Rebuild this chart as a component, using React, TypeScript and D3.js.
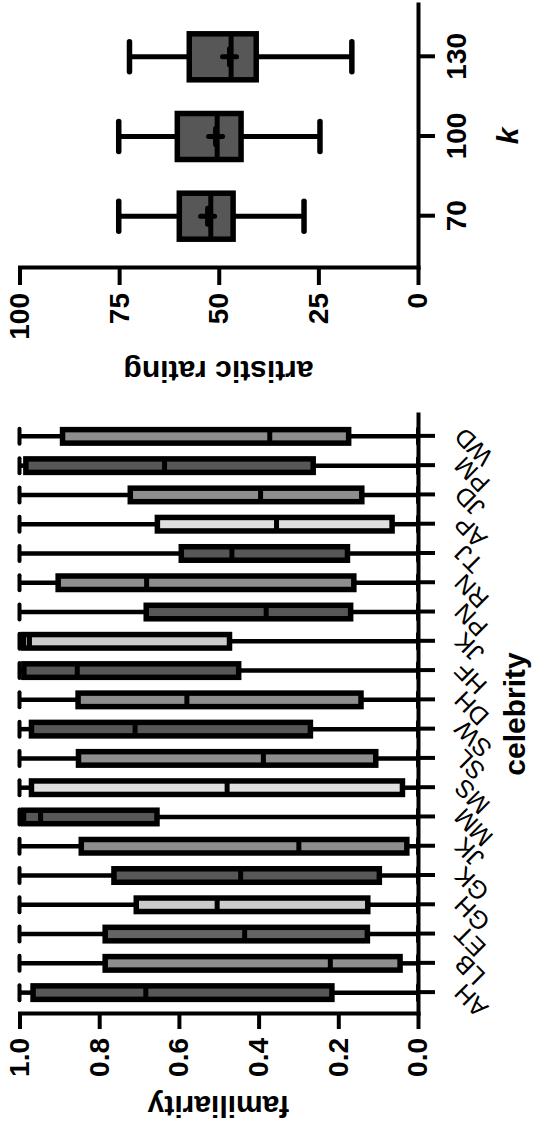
import * as d3 from "d3";
import { useEffect, useRef } from "react";

// familiarity per celebrity (box plot stats)
const celebrities = ["AH", "LB", "ET", "GH", "GK", "JK", "MM", "MS", "SL", "SW", "DH", "HF", "JK", "PN", "RN", "TJ", "AP", "JD", "PM", "WD"];
const famMax = [1, 1, 1, 1, 1, 1, 1, 1, 1, 1, 1, 1, 1, 1, 1, 1, 1, 1, 1, 1];
const famQ3 = [0.966, 0.785, 0.785, 0.707, 0.763, 0.845, 0.99, 0.97, 0.852, 0.97, 0.853, 0.989, 0.99, 0.682, 0.903, 0.594, 0.654, 0.722, 0.984, 0.892];
const famMedian = [0.683, 0.22, 0.435, 0.504, 0.445, 0.299, 0.947, 0.479, 0.388, 0.71, 0.58, 0.855, 0.975, 0.381, 0.681, 0.467, 0.355, 0.395, 0.636, 0.372];
const famQ1 = [0.216, 0.045, 0.127, 0.126, 0.097, 0.028, 0.655, 0.039, 0.106, 0.27, 0.143, 0.45, 0.473, 0.169, 0.161, 0.177, 0.065, 0.141, 0.263, 0.174];
const famMin = [0, 0, 0, 0, 0, 0, 0, 0, 0, 0, 0, 0, 0, 0, 0, 0, 0, 0, 0, 0];
const famTicks = [0, 0.2, 0.4, 0.6, 0.8, 1.0];

// artistic rating per k
const kValues = ["70", "100", "130"];
const artMax = [75.1, 75.1, 72.4];
const artQ3 = [59.9, 60.4, 57.4];
const artMedian = [52.0, 50.4, 46.9];
const artMean = [52.8, 50.8, 47.3];
const artQ1 = [46.4, 44.4, 40.6];
const artMin = [28.6, 24.6, 16.6];
const artTicks = [0, 25, 50, 75, 100];

// box fills (style only)
const DARK = "#575757";
const MID = "#8e8e8e";
const LIGHT = "#e0e0e0";
const LIGHT2 = "#cbcbcb";
const famFills = [DARK, MID, "#646464", LIGHT2, DARK, MID, DARK, LIGHT, MID, DARK, MID, DARK, LIGHT2, DARK, MID, DARK, LIGHT, MID, DARK, MID];

const FONT = "'Liberation Sans', Arial, Helvetica, sans-serif";

const drawBox = (g, cx, y, s, opt) => {
    const half = opt.bw / 2;
    const capHalf = opt.cap / 2;
    // whiskers
    [[s.q3, s.max], [s.q1, s.min]].forEach(([a, b]) => {
        g.append("line").attr("x1", cx).attr("x2", cx).attr("y1", y(a)).attr("y2", y(b))
            .attr("stroke", "#000").attr("stroke-width", opt.ws);
        g.append("line").attr("x1", cx - capHalf).attr("x2", cx + capHalf).attr("y1", y(b)).attr("y2", y(b))
            .attr("stroke", "#000").attr("stroke-width", opt.cs).attr("stroke-linecap", "round");
    });
    g.append("rect")
        .attr("x", cx - half).attr("width", opt.bw)
        .attr("y", y(s.q3)).attr("height", y(s.q1) - y(s.q3))
        .attr("fill", s.fill).attr("stroke", "#000").attr("stroke-width", opt.bs);
    g.append("line").attr("x1", cx - half).attr("x2", cx + half).attr("y1", y(s.med)).attr("y2", y(s.med))
        .attr("stroke", "#000").attr("stroke-width", opt.ms);
    if (s.mean !== undefined) {
        const m = y(s.mean);
        g.append("path").attr("d", `M${cx - 8},${m}H${cx + 8}M${cx},${m - 7}V${m + 7}`)
            .attr("stroke", "#000").attr("stroke-width", 5).attr("stroke-linecap", "round");
    }
};

const styleAxis = (ax, fontSize, weight) => {
    ax.attr("font-family", FONT).attr("font-size", fontSize).attr("font-weight", weight);
    ax.select(".domain").attr("stroke-width", 4).attr("stroke-linecap", "square");
    ax.selectAll(".tick line").attr("stroke-width", 4);
    ax.selectAll(".tick text").attr("fill", "#000");
};

const App = () => {
    const ref = useRef(null);

    useEffect(() => {
        const svg = d3.select(ref.current);
        svg.selectAll("*").remove();
        // chart is drawn landscape and turned a quarter turn counter-clockwise
        const root = svg.append("g").attr("transform", "translate(0,1127) rotate(-90)");

        // ---- familiarity panel
        const famX = d3.scalePoint().domain(d3.range(celebrities.length)).range([113, 712]).padding(0.73);
        const famY = d3.scaleLinear().domain([0, 1]).range([418, 19.5]);

        const fg = root.append("g");
        celebrities.forEach((c, i) => {
            drawBox(fg, famX(i), famY, {
                max: famMax[i], q3: famQ3[i], med: famMedian[i], q1: famQ1[i], min: famMin[i], fill: famFills[i]
            }, { bw: 13.5, cap: 15, bs: 5.5, ws: 4.5, cs: 4, ms: 5 });
        });

        const fx = root.append("g").attr("transform", "translate(0,418)")
            .call(d3.axisBottom(famX).tickSize(17).tickSizeOuter(0).tickFormat(i => celebrities[i]));
        styleAxis(fx, 25, "normal");
        fx.selectAll(".tick text")
            .attr("y", 0).attr("dy", 0)
            .attr("text-anchor", "end")
            .attr("transform", "translate(10,47) rotate(-45)");

        const fy = root.append("g").attr("transform", "translate(113,0)")
            .call(d3.axisLeft(famY).tickValues(famTicks).tickFormat(d3.format(".1f")).tickSize(15).tickPadding(9).tickSizeOuter(0));
        styleAxis(fy, 28, "bold");

        root.append("text").attr("transform", "translate(31,218.5) rotate(-90)")
            .attr("text-anchor", "middle").attr("font-family", FONT).attr("font-weight", "bold").attr("font-size", 30)
            .text("familiarity");
        root.append("text").attr("x", 413).attr("y", 525)
            .attr("text-anchor", "middle").attr("font-family", FONT).attr("font-weight", "bold").attr("font-size", 30)
            .text("celebrity");

        // ---- artistic rating panel
        const artX = d3.scalePoint().domain(kValues).range([859, 1122]).padding(0.65);
        const artY = d3.scaleLinear().domain([0, 100]).range([418, 19.5]);

        const ag = root.append("g");
        kValues.forEach((k, i) => {
            drawBox(ag, artX(k), artY, {
                max: artMax[i], q3: artQ3[i], med: artMedian[i], mean: artMean[i], q1: artQ1[i], min: artMin[i], fill: DARK
            }, { bw: 46, cap: 30, bs: 5.5, ws: 5, cs: 5.5, ms: 5 });
        });

        const ax = root.append("g").attr("transform", "translate(0,418)")
            .call(d3.axisBottom(artX).tickSize(17).tickPadding(11).tickSizeOuter(0));
        styleAxis(ax, 28, "bold");

        const ay = root.append("g").attr("transform", "translate(859,0)")
            .call(d3.axisLeft(artY).tickValues(artTicks).tickSize(17).tickPadding(8).tickSizeOuter(0));
        styleAxis(ay, 28, "bold");

        root.append("text").attr("transform", "translate(766,218.5) rotate(-90)")
            .attr("text-anchor", "middle").attr("font-family", FONT).attr("font-weight", "bold").attr("font-size", 30)
            .text("artistic rating");
        root.append("text").attr("x", 991).attr("y", 518)
            .attr("text-anchor", "middle").attr("font-family", FONT).attr("font-weight", "bold")
            .attr("font-style", "italic").attr("font-size", 30)
            .text("k");
    }, []);

    return (
        <svg ref={ref} width={537} height={1127} style={{ position: "absolute", left: 0, top: 0, background: "#fff" }} />
    );
};

export default App;
